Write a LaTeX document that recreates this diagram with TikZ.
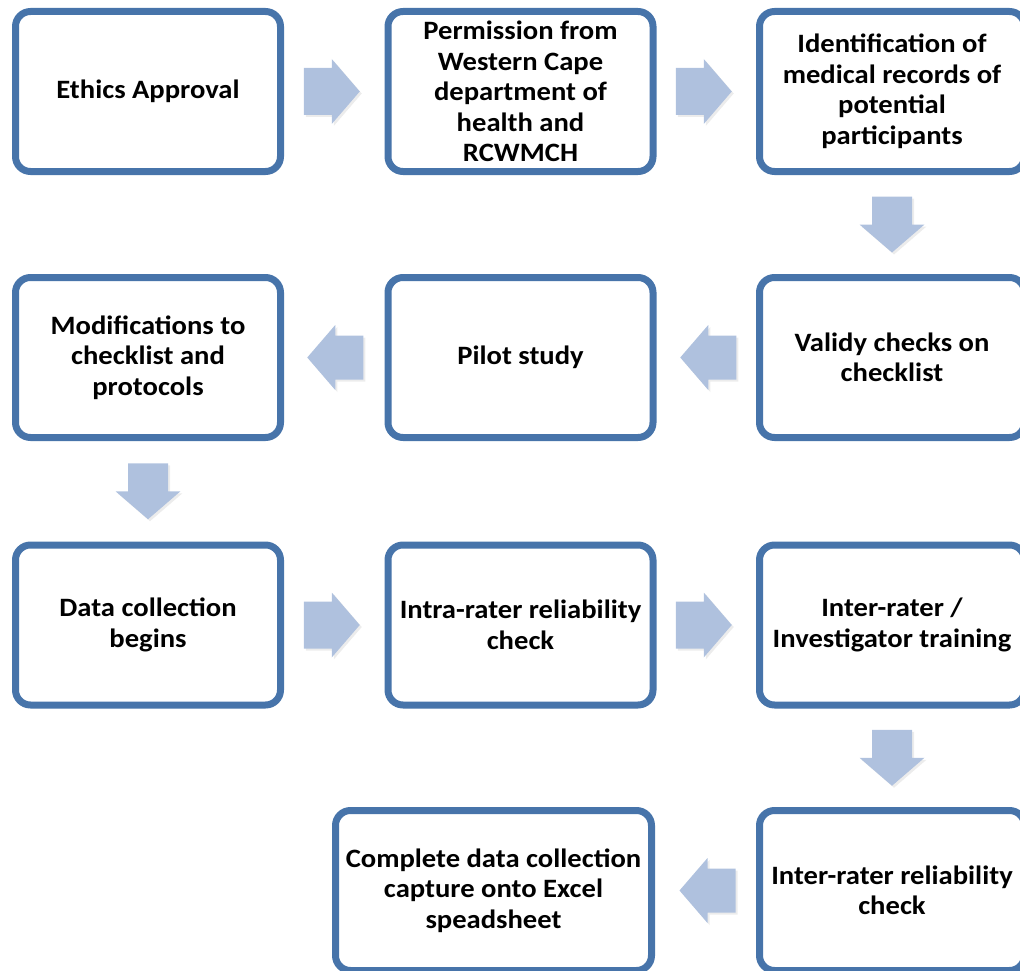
\documentclass[tikz,border=0pt]{standalone}
\usepackage{fontspec}
\setmainfont{Carlito}[FakeStretch=1.08]
\usetikzlibrary{calc,shadows}
\definecolor{boxblue}{HTML}{4774AA}
\definecolor{arrowblue}{HTML}{AFC1DE}
\tikzset{
  stepbox/.style={draw=boxblue, line width=7pt, fill=white, rounded corners=15pt,
    minimum width=265pt, minimum height=160pt, align=center,
    font=\fontsize{26.5}{30.5}\selectfont\bfseries,
    drop shadow={opacity=0.18, shadow xshift=2pt, shadow yshift=-3pt}},
  blockarrow/.style={fill=arrowblue,
    drop shadow={opacity=0.15, shadow xshift=2pt, shadow yshift=-2pt}}
}
\newcommand\rarr[1]{\fill[blockarrow] (#1) ++(-28,-23.5) -- ++(28,0) -- ++(0,-9) -- ++(28,32.5) -- ++(-28,32.5) -- ++(0,-9) -- ++(-28,0) -- cycle;}
\newcommand\larr[1]{\fill[blockarrow] (#1) ++(28,-22) -- ++(-28,0) -- ++(0,-10.5) -- ++(-28,32.5) -- ++(28,32.5) -- ++(0,-10.5) -- ++(28,0) -- cycle;}
\newcommand\darr[1]{\fill[blockarrow] (#1) ++(-20,-28) -- ++(40,0) -- ++(0,28) -- ++(12.5,0) -- ++(-32.5,28) -- ++(-32.5,-28) -- ++(12.5,0) -- cycle;}
\begin{document}
\begin{tikzpicture}[x=1pt,y=-1pt]
\useasboundingbox (0,0) rectangle (1020,971);
% row 1
\node[stepbox] (b1) at (148,91.5) {Ethics Approval};
\node[stepbox] (b2) at (520.5,91.5) {Permission from\\Western Cape\\department of\\health and\\RCWMCH};
\node[stepbox] (b3) at (892,91.5) {Identification of\\medical records of\\potential\\participants};
% row 2
\node[stepbox] (b6) at (892,357.5) {Validy checks on\\checklist};
\node[stepbox] (b5) at (520.5,357.5) {Pilot study};
\node[stepbox] (b4) at (148,357.5) {Modifications to\\checklist and\\protocols};
% row 3
\node[stepbox] (b7) at (148,625) {Data collection\\begins};
\node[stepbox] (b8) at (520.5,625) {Intra-rater reliability\\check};
\node[stepbox] (b9) at (892,625) {Inter-rater /\\Investigator training};
% row 4
\node[stepbox] (b10) at (892,890.5) {Inter-rater reliability\\check};
\node[stepbox, minimum width=316pt] (b11) at (493.5,890.5) {Complete data collection\\capture onto Excel\\speadsheet};
% arrows
\coordinate (a1) at ($($(b1.east)!0.5!(b2.west)$)+(-2.5,0)$);
\coordinate (a2) at ($($(b2.east)!0.5!(b3.west)$)+(-2.5,0)$);
\coordinate (d1) at ($(b3.south)!0.5!(b6.north)$);
\coordinate (l1) at ($($(b6.west)!0.5!(b5.east)$)+(2,0)$);
\coordinate (l2) at ($($(b5.west)!0.5!(b4.east)$)+(1,0)$);
\coordinate (d2) at ($(b4.south)!0.5!(b7.north)$);
\coordinate (a3) at ($($(b7.east)!0.5!(b8.west)$)+(-2.5,0)$);
\coordinate (a4) at ($($(b8.east)!0.5!(b9.west)$)+(-2.5,0)$);
\coordinate (d3) at ($(b9.south)!0.5!(b10.north)$);
\coordinate (l3) at ($($(b10.west)!0.5!(b11.east)$)+(2,0)$);
\rarr{a1}
\rarr{a2}
\darr{d1}
\larr{l1}
\larr{l2}
\darr{d2}
\rarr{a3}
\rarr{a4}
\darr{d3}
\larr{l3}
\end{tikzpicture}
\end{document}
